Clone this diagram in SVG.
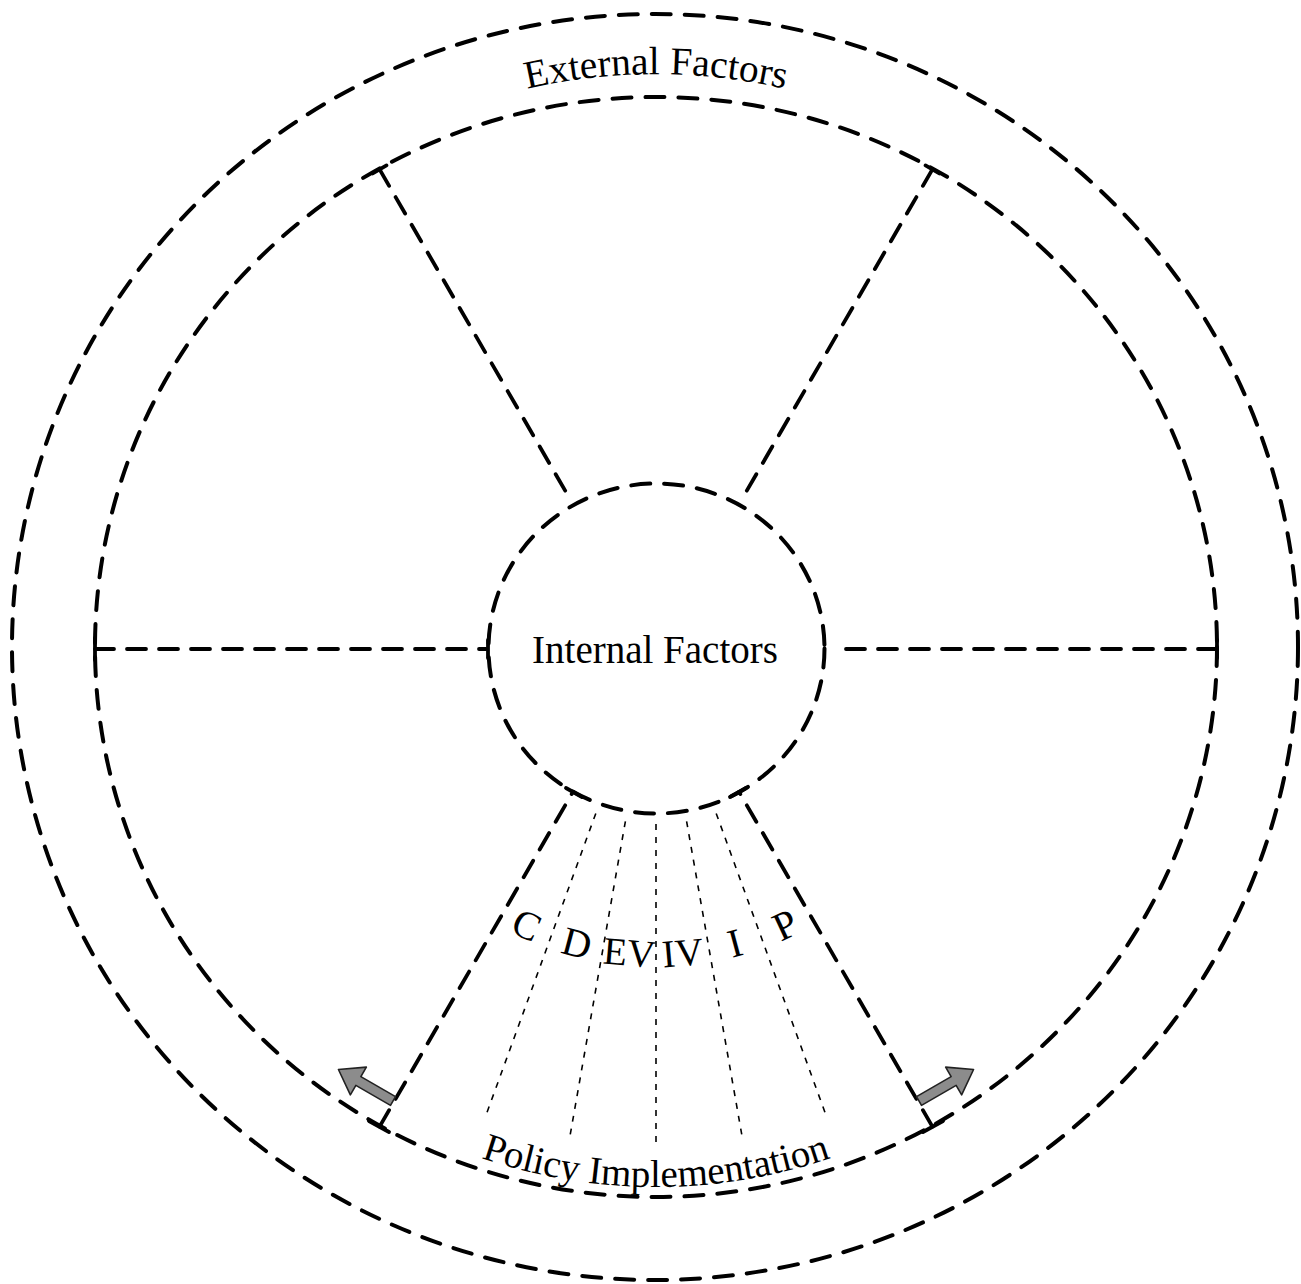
<svg xmlns="http://www.w3.org/2000/svg" width="1301" height="1284" viewBox="0 0 1301 1284">
<style>
.ring{fill:none;stroke:#000;stroke-width:4;stroke-dasharray:19 14;stroke-linecap:round}
.spoke{fill:none;stroke:#000;stroke-width:3.8;stroke-dasharray:19 13;stroke-linecap:round}
.tick{fill:none;stroke:#000;stroke-width:3.8;stroke-linecap:round}
.div{fill:none;stroke:#000;stroke-width:1.6;stroke-dasharray:6 7}
.lbl{font-family:"Liberation Serif","Times New Roman",serif;fill:#000}
.arrow{fill:#8c8c8c;stroke:#222;stroke-width:1.6;stroke-linejoin:round}
</style>
<defs>
<path id="topArc" d="M82,648 A574,574 0 0 1 1230,648"/>
<path id="botArc" d="M117,648 A539,539 0 0 0 1195,648"/>
<path id="arrowShape" d="M0,-5 L40,-5 L40,-16 L63,0 L40,16 L40,5 L0,5 Z"/>
</defs>
<rect width="1301" height="1284" fill="#fff"/>

<g id="external-factors">
<ellipse class="ring" cx="655" cy="647" rx="643" ry="633"/>
<text class="lbl" font-size="39.5" text-anchor="middle"><textPath href="#topArc" startOffset="50%">External Factors</textPath></text>
</g>

<g id="middle-ring">
<ellipse class="ring" cx="656" cy="647" rx="561" ry="550"/>
</g>

<g id="internal-factors">
<ellipse class="ring" cx="656.5" cy="648.5" rx="168" ry="165"/>
<text class="lbl" font-size="39" x="655" y="663" text-anchor="middle">Internal Factors</text>
</g>

<g id="connectors">
<line class="spoke" x1="379.6" y1="169.4" x2="567.5" y2="494.7"/>
<line class="spoke" x1="932.4" y1="169.4" x2="744.5" y2="494.7"/>
<line class="spoke" x1="95" y1="649" x2="486" y2="649"/>
<line class="spoke" x1="1217" y1="649" x2="836" y2="649"/>
<line class="spoke" x1="379.6" y1="1126.6" x2="573" y2="791.8"/>
<line class="spoke" x1="932.4" y1="1126.6" x2="739" y2="791.8"/>
<line class="tick" x1="372.7" y1="173.4" x2="386.5" y2="165.4"/>
<line class="tick" x1="925.5" y1="165.4" x2="939.3" y2="173.4"/>
<line class="tick" x1="95" y1="638" x2="95" y2="660"/>
<line class="tick" x1="488" y1="640" x2="488" y2="658"/>
<line class="tick" x1="1217" y1="640" x2="1217" y2="658"/>
<line class="tick" x1="566" y1="788" x2="582" y2="797"/>
<line class="tick" x1="746" y1="788" x2="730" y2="797"/>
<line class="tick" x1="369" y1="1121" x2="389" y2="1132"/>
<line class="tick" x1="943" y1="1121" x2="923" y2="1132"/>
</g>

<g id="policy-implementation">
<line class="div" x1="595.8" y1="813.4" x2="486.4" y2="1114.1"/>
<line class="div" x1="625.4" y1="821.3" x2="569.9" y2="1136.5"/>
<line class="div" x1="656" y1="824" x2="656" y2="1144"/>
<line class="div" x1="686.6" y1="821.3" x2="742.1" y2="1136.5"/>
<line class="div" x1="716.2" y1="813.4" x2="825.6" y2="1114.1"/>
<text class="lbl" font-size="40" x="656" y="967" text-anchor="middle" transform="rotate(25 656 648)">C</text>
<text class="lbl" font-size="40" x="656" y="967" text-anchor="middle" transform="rotate(15 656 648)">D</text>
<text class="lbl" font-size="39" x="656" y="967" text-anchor="middle" transform="rotate(5 656 648)">EV</text>
<text class="lbl" font-size="39" x="656" y="967" text-anchor="middle" transform="rotate(-5 656 648)">IV</text>
<text class="lbl" font-size="40" x="656" y="967" text-anchor="middle" transform="rotate(-15 656 648)">I</text>
<text class="lbl" font-size="40" x="656" y="967" text-anchor="middle" transform="rotate(-25 656 648)">P</text>
<text class="lbl" font-size="39" text-anchor="middle"><textPath href="#botArc" startOffset="50%">Policy Implementation</textPath></text>
</g>

<g id="arrow-left">
<use href="#arrowShape" class="arrow" transform="translate(393,1101) rotate(210)"/>
</g>
<g id="arrow-right">
<use href="#arrowShape" class="arrow" transform="translate(919,1101) rotate(-30)"/>
</g>
</svg>
